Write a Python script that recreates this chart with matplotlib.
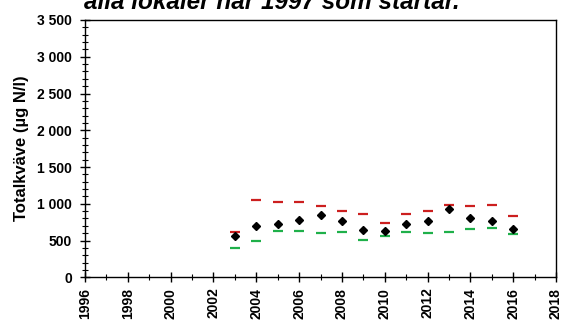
import matplotlib
matplotlib.use("Agg")
import matplotlib.pyplot as plt
from matplotlib.ticker import MultipleLocator, FuncFormatter

plt.rcParams['font.family'] = ['Liberation Sans', 'DejaVu Sans']
plt.rcParams['font.weight'] = 'bold'

years = [2003, 2004, 2005, 2006, 2007, 2008, 2009, 2010, 2011, 2012, 2013, 2014, 2015, 2016]
median = [566, 694, 725, 784, 847, 766, 648, 626, 721, 766, 929, 811, 770, 661]
upper = [620, 1047, 1020, 1020, 966, 898, 857, 743, 865, 898, 979, 966, 988, 838]
lower = [394, 494, 634, 634, 603, 616, 503, 566, 616, 607, 620, 653, 671, 593]

title = "alla lokaler har 1997 som startår."
ylabel = "Totalkväve (µg N/l)"

W, H = 561, 320
fig = plt.figure(figsize=(W / 100, H / 100), dpi=100)
# axes box in pixels: left 85, right 556, top 20, bottom 277
ax = fig.add_axes([85 / W, 1 - 277.3 / H, (556 - 85) / W, (277.3 - 20) / H])

ax.plot(years, upper, ls='none', marker='_', ms=7, mew=1.6, color='#cc1f1f')
ax.plot(years, lower, ls='none', marker='_', ms=7, mew=1.6, color='#1fb04a')
ax.plot(years, median, ls='none', marker='D', ms=4.5, color='black')

ax.set_xlim(1996, 2018)
ax.set_ylim(0, 3500)
ax.xaxis.set_major_locator(MultipleLocator(2))
ax.xaxis.set_minor_locator(MultipleLocator(1))
ax.yaxis.set_major_locator(MultipleLocator(500))
ax.yaxis.set_minor_locator(MultipleLocator(100))
ax.yaxis.set_major_formatter(FuncFormatter(lambda v, p: f"{int(v):,}".replace(",", " ")))

ax.tick_params(which='major', direction='inout', length=7, width=1, labelsize=10)
ax.tick_params(which='minor', direction='inout', length=4, width=0.8)
ax.tick_params(axis='y', pad=6)
ax.tick_params(axis='x', labelrotation=90, pad=4)
for lab in ax.get_xticklabels() + ax.get_yticklabels():
    lab.set_fontweight('bold')
for s in ax.spines.values():
    s.set_linewidth(1)

ax.set_ylabel(ylabel, fontsize=12, fontweight='bold', labelpad=6)

# second line of a two-line title, the first line lies above the picture
fig.text(272 / W, 1 - 9 / H, title, ha='center', va='baseline',
         fontsize=17.5, fontweight='bold', style='italic')

fig.savefig("out.png", dpi=100)
